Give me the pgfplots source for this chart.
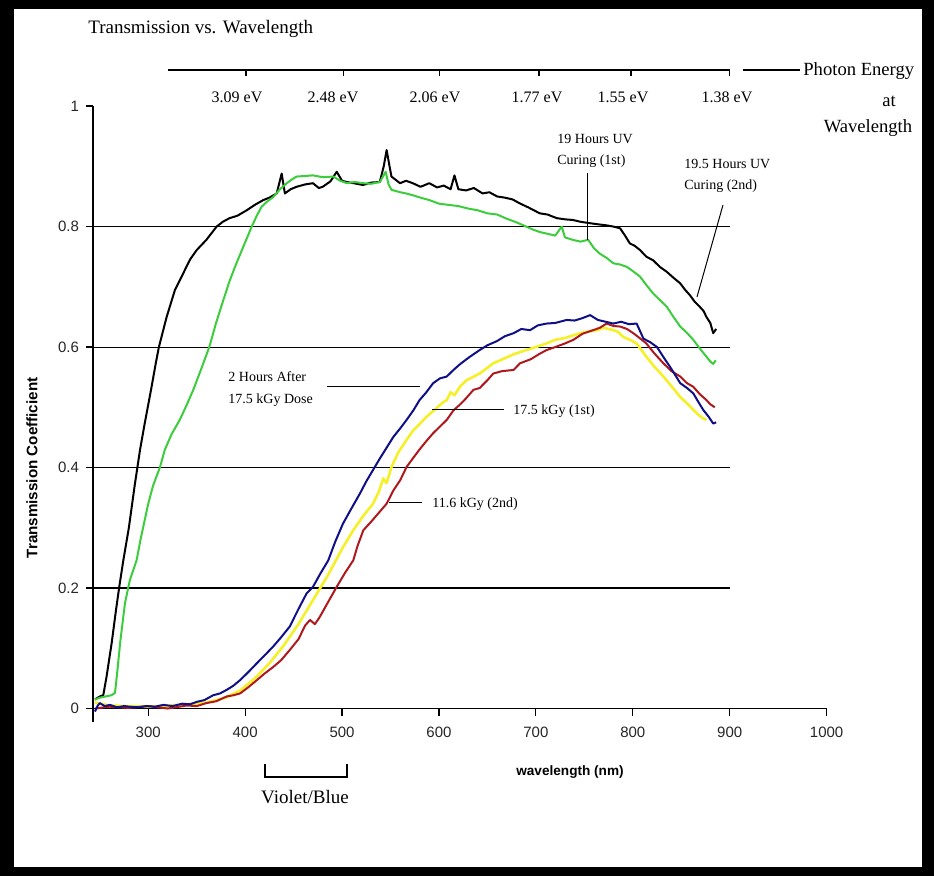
\documentclass[border=0pt]{standalone}
\usepackage{fontspec}
\setmainfont{Liberation Serif}
\setsansfont{Liberation Sans}
\usepackage{pgfplots}
\pgfplotsset{compat=1.18}
\usetikzlibrary{backgrounds}
\definecolor{cgreen}{RGB}{60,205,60}
\definecolor{cblue}{RGB}{15,15,135}
\definecolor{cyellow}{RGB}{245,240,40}
\definecolor{cred}{RGB}{175,25,30}
\newcommand\ann{\fontsize{7}{10.8}\selectfont}
\begin{document}
\begin{tikzpicture}
\begin{axis}[name=ax, scale only axis, width=366.8pt, height=308.2pt,
  xmin=243, xmax=1000, ymin=-0.0232, ymax=1,
  axis y line*=left, axis x line*=middle,
  hide obscured x ticks=false, hide obscured y ticks=false,
  xtick={300,400,500,600,700,800,900,1000},
  ytick={0,0.2,0.4,0.6,0.8,1},
  tick align=outside, major tick length=3.5pt,
  ticklabel style={font=\sffamily\fontsize{7.5}{8}\selectfont, text=black!85},
  xticklabel style={yshift=-2pt},
  /pgf/number format/assume math mode=true,
  /pgf/number format/1000 sep={},
  axis line style={line width=0.6pt},
  tick style={line width=0.6pt, black},
  clip=false,
  every axis plot/.append style={line width=1pt, line join=round},
]
\draw[line width=0.55pt] (axis cs:243,0.2) -- (axis cs:900,0.2);
\draw[line width=0.55pt] (axis cs:243,0.4) -- (axis cs:900,0.4);
\draw[line width=0.55pt] (axis cs:243,0.6) -- (axis cs:900,0.6);
\draw[line width=0.55pt] (axis cs:243,0.8) -- (axis cs:900,0.8);

% 17.5 kGy (1st)
\addplot[cyellow, line width=1.3pt] coordinates {
(245,0.01)(260,0.005)(280,0.004)(300,0.003)(320,0.005)(340,0.007)(360,0.01)(380,0.018)(395,0.03)(410,0.05)(425,0.075)(440,0.105)(455,0.14)(470,0.18)(485,0.22)(500,0.265)(511.6,0.296)(522,0.32)(532,0.34)(538,0.36)(542.6,0.382)(546,0.374)(551,0.401)(558,0.425)(566.6,0.446)(573.6,0.462)(580,0.472)(587,0.484)(597,0.498)(604,0.508)(608,0.512)(612,0.525)(616,0.52)(622,0.535)(628.6,0.545)(642,0.556)(656,0.573)(666,0.58)(677,0.588)(690,0.595)(700,0.60)(711,0.606)(720,0.612)(730,0.615)(745.6,0.623)(755,0.626)(762.8,0.628)(770,0.632)(780,0.628)(785,0.625)(790,0.617)(797,0.612)(804,0.606)(814,0.584)(822,0.568)(831.6,0.551)(840,0.535)(849,0.517)(857,0.505)(866,0.49)(872,0.482)(876,0.479)
};
% 11.6 kGy (2nd)
\addplot[cred] coordinates {
(245,0.0)(260,0.003)(280,0.001)(300,0.004)(320,0.0)(340,0.005)(350,0.004)(360,0.009)(370,0.012)(381,0.02)(388,0.022)(394.7,0.025)(403,0.035)(412,0.047)(420,0.058)(429,0.069)(437,0.08)(446,0.097)(455,0.115)(462,0.138)(467,0.147)(472,0.14)(477,0.152)(485,0.175)(494.5,0.202)(503,0.225)(511.6,0.246)(516,0.27)(522,0.296)(530,0.31)(538,0.325)(546,0.34)(553,0.362)(560,0.379)(566.6,0.401)(573,0.415)(580,0.43)(587,0.444)(594,0.457)(601,0.468)(608,0.479)(615,0.495)(622,0.505)(628,0.515)(635.6,0.529)(642,0.532)(650,0.545)(656,0.556)(665,0.56)(677,0.562)(683.6,0.573)(695,0.58)(703,0.588)(711,0.595)(720,0.6)(730,0.606)(738.7,0.612)(748,0.622)(759,0.628)(766,0.632)(773,0.639)(780,0.635)(787,0.634)(794,0.63)(800.6,0.623)(807,0.615)(814,0.606)(822,0.59)(831.6,0.573)(840,0.56)(849,0.551)(856,0.54)(862.5,0.534)(869,0.522)(876,0.512)(880,0.505)(884.6,0.50)
};
% 2 Hours After 17.5 kGy Dose
\addplot[cblue] coordinates {
(245,-0.005)(248,0.005)(250,0.009)(255,0.004)(260.5,0.006)(268,0.002)(275,0.004)(281,0.003)(290,0.002)(298,0.004)(307,0.003)(315.6,0.006)(325,0.004)(335,0.008)(343,0.007)(350,0.011)(358,0.014)(367,0.022)(374,0.025)(381,0.031)(388,0.038)(394.7,0.047)(403,0.06)(412,0.075)(420,0.088)(429,0.103)(437,0.118)(446,0.136)(455,0.165)(463.4,0.191)(470,0.202)(478,0.225)(485.8,0.246)(493,0.277)(501,0.307)(510,0.333)(518.5,0.357)(525,0.377)(532,0.396)(539,0.415)(546,0.433)(553,0.451)(560,0.465)(566.6,0.479)(573.6,0.495)(580,0.512)(587,0.525)(594,0.54)(601,0.548)(608,0.551)(615,0.562)(622,0.572)(632,0.584)(642,0.595)(650,0.603)(660,0.61)(668,0.618)(677,0.623)(685,0.63)(694,0.628)(702,0.636)(711,0.639)(720,0.64)(731.8,0.645)(740,0.644)(748,0.648)(756,0.653)(764,0.645)(772,0.642)(780,0.639)(788,0.642)(796,0.638)(804,0.639)(811,0.614)(818,0.608)(825,0.60)(831,0.585)(838.5,0.567)(844,0.553)(849,0.54)(856,0.532)(862.5,0.523)(868,0.508)(873,0.495)(878,0.485)(883,0.473)(886,0.475)
};
% 19.5 Hours UV Curing (2nd)
\addplot[black] coordinates {
(245,0.015)(250,0.02)(253.6,0.022)(257,0.053)(262.3,0.109)(266.7,0.163)(270.1,0.202)(274.3,0.246)(280,0.30)(286,0.37)(291.5,0.429)(296,0.47)(303,0.53)(308,0.575)(311,0.60)(319,0.65)(327.6,0.695)(336,0.722)(343,0.745)(350,0.761)(360,0.778)(370.6,0.80)(377,0.808)(384,0.814)(392,0.818)(401.6,0.827)(410,0.836)(418.7,0.844)(425,0.848)(432.6,0.855)(437.7,0.888)(441,0.855)(447,0.862)(453,0.866)(462,0.87)(470,0.872)(476,0.864)(480,0.866)(488,0.875)(494.5,0.891)(500,0.876)(504.8,0.874)(512,0.872)(521.6,0.869)(530,0.873)(539,0.874)(543,0.9)(546,0.927)(549,0.9)(551,0.883)(559.8,0.872)(566,0.876)(573,0.872)(581,0.866)(590,0.872)(598,0.865)(605,0.868)(612,0.862)(616,0.885)(620,0.862)(628,0.86)(636,0.864)(645,0.855)(652,0.857)(660,0.85)(668,0.848)(676,0.845)(684,0.838)(692,0.832)(704,0.822)(712,0.82)(721.5,0.814)(730,0.812)(738,0.811)(746,0.808)(754,0.806)(763,0.804)(773,0.802)(780,0.8)(787,0.797)(792,0.785)(797,0.772)(802,0.768)(807.5,0.761)(814,0.75)(821,0.744)(828,0.733)(835,0.725)(842,0.715)(848.8,0.706)(854,0.695)(859,0.686)(864,0.675)(869,0.667)(873,0.66)(876,0.65)(880,0.64)(883,0.623)(886,0.63)
};
% 19 Hours UV Curing (1st)
\addplot[cgreen] coordinates {
(245,0.015)(250,0.018)(256,0.02)(262,0.022)(265.7,0.026)(268,0.06)(271,0.109)(276,0.175)(281,0.213)(288,0.246)(292,0.28)(296,0.31)(300,0.34)(305,0.37)(312,0.40)(317,0.429)(324,0.455)(332.8,0.48)(340,0.505)(346.5,0.529)(355,0.565)(363,0.6)(370,0.64)(377.5,0.678)(384,0.71)(391,0.739)(399,0.77)(406.8,0.80)(412,0.818)(417,0.833)(423,0.842)(429,0.849)(436,0.862)(443,0.872)(448,0.878)(453,0.883)(462,0.884)(470,0.885)(480,0.882)(491,0.883)(498,0.876)(505,0.872)(513,0.874)(521.6,0.872)(530,0.871)(539,0.874)(545,0.891)(548,0.87)(551,0.861)(560,0.857)(566,0.855)(573,0.852)(581,0.848)(590,0.844)(600,0.838)(610,0.836)(620,0.834)(630,0.83)(640,0.827)(650,0.822)(660,0.82)(670,0.813)(680,0.807)(690,0.8)(697,0.795)(704,0.791)(712,0.788)(720,0.785)(726.7,0.80)(730,0.782)(738,0.778)(746,0.775)(754,0.778)(760,0.764)(766,0.755)(773,0.748)(780,0.739)(787,0.737)(794,0.733)(801,0.725)(807.5,0.717)(814,0.703)(821,0.689)(828,0.678)(835,0.667)(842,0.65)(849,0.634)(855,0.625)(862.5,0.612)(868,0.6)(873,0.59)(877,0.582)(880,0.576)(883,0.572)(885.6,0.578)
};
\end{axis}

% everything else placed in picture pixels (origin top left, y down)
\begin{scope}[x=0.5pt, y=-0.5pt, shift={(ax.south west)}, shift={(-93,-722.5)}]
\begin{pgfonlayer}{background}
\fill[black] (0,0) rectangle (934,876);
\fill[white] (14,9) rectangle (922,867);
\end{pgfonlayer}

\node[anchor=west, inner sep=0, font=\fontsize{9.5}{11}\selectfont] at (88,29) {Transmission vs. Wavelength};

% photon energy scale
\draw[line width=0.7pt] (168,70) -- (730,70);
\foreach \x in {246,343.6,439.5,539,631,729.6} \draw[line width=0.6pt] (\x,70) -- (\x,76);
\draw[line width=0.7pt] (743,70) -- (800,70);
\begin{scope}[font=\fontsize{8}{9}\selectfont]
\node at (237,97) {3.09 eV};
\node at (333,97) {2.48 eV};
\node at (435,97) {2.06 eV};
\node at (537,97) {1.77 eV};
\node at (623,97) {1.55 eV};
\node at (727,97) {1.38 eV};
\end{scope}
\node[anchor=west, inner sep=0, font=\fontsize{9.3}{11}\selectfont] at (803,71) {Photon Energy};
\node[font=\fontsize{9.3}{11}\selectfont] at (889,101) {at};
\node[font=\fontsize{9.3}{11}\selectfont] at (868,128) {Wavelength};

% curve annotations
\draw[line width=0.5pt] (588,173) -- (588,240);
\draw[line width=0.5pt] (723,205) -- (697,297);
\draw[line width=0.5pt] (327,387) -- (420,387);
\draw[line width=0.5pt] (432,410) -- (504,410);
\draw[line width=0.5pt] (389,503) -- (422,503);
\node[anchor=west, inner sep=0, align=left, font=\ann] at (557,151) {19 Hours UV\\Curing (1st)};
\node[anchor=west, inner sep=0, align=left, font=\ann] at (684,176) {19.5 Hours UV\\Curing (2nd)};
\node[anchor=west, inner sep=0, align=left, font=\ann] at (228,389) {2 Hours After\\17.5 kGy Dose};
\node[anchor=west, inner sep=0, font=\ann] at (513,411) {17.5 kGy (1st)};
\node[anchor=west, inner sep=0, font=\ann] at (432,504) {11.6 kGy (2nd)};

% violet/blue bracket
\draw[line width=0.6pt] (265,764) -- (265,777) -- (347,777) -- (347,764);
\node[font=\fontsize{9.5}{11}\selectfont] at (305,797) {Violet/Blue};

% axis titles
\node[font=\sffamily\bfseries\fontsize{6.8}{8}\selectfont] at (570,772) {wavelength (nm)};
\node[rotate=90, font=\sffamily\bfseries\fontsize{7.6}{9}\selectfont] at (32,468) {Transmission Coefficient};

\pgfresetboundingbox
\path (0,0) rectangle (934,876);
\end{scope}
\end{tikzpicture}
\end{document}
